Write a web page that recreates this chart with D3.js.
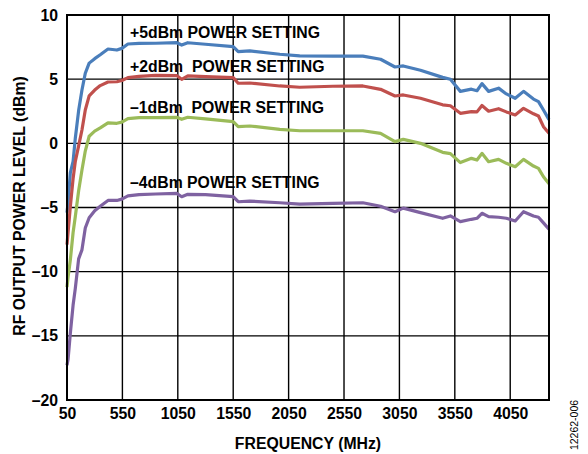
<!DOCTYPE html>
<html><head><meta charset="utf-8">
<script src="https://cdn.jsdelivr.net/npm/d3@7"></script>
<style>body{margin:0;background:#fff}svg{display:block}</style>
</head><body>
<svg id="chart" width="588" height="454"></svg>
<script>
const freqs = [50, 60, 80, 105, 125, 155, 185, 215, 250, 300, 350, 420, 500, 545, 600, 700, 850, 1040, 1085, 1140, 1300, 1550, 1595, 1700, 1970, 2150, 2450, 2720, 2880, 3010, 3085, 3240, 3440, 3510, 3600, 3700, 3750, 3795, 3855, 3945, 4015, 4095, 4170, 4260, 4305, 4350, 4400];
const plus5 = [-5.4, -4.6, -2.3, -1.4, 0.4, 2.55, 4.16, 5.46, 6.25, 6.6, 6.9, 7.35, 7.27, 7.4, 7.74, 7.79, 7.8, 7.84, 7.66, 7.84, 7.72, 7.53, 7.14, 7.2, 6.94, 6.82, 6.8, 6.8, 6.55, 5.95, 6.03, 5.7, 5.14, 4.99, 4.05, 4.22, 4.1, 4.65, 4.05, 4.3, 3.85, 3.51, 4.05, 3.45, 3.25, 2.6, 1.85];
const plus2 = [-7.9, -6.9, -4.94, -2.75, -1.4, -0.2, 1.04, 2.6, 3.7, 4.15, 4.5, 4.78, 4.8, 4.9, 5.12, 5.22, 5.3, 5.28, 4.99, 5.25, 5.2, 5.12, 4.68, 4.7, 4.47, 4.37, 4.45, 4.47, 4.21, 3.69, 3.77, 3.51, 3.0, 2.93, 2.34, 2.47, 2.45, 2.95, 2.5, 2.7, 2.45, 2.21, 2.73, 2.3, 2.13, 1.3, 0.78];
const minus1 = [-11.2, -10.4, -9.1, -6.95, -5.7, -3.7, -2.08, -0.6, 0.55, 0.95, 1.2, 1.6, 1.56, 1.65, 1.92, 2.0, 2.0, 2.03, 1.87, 2.03, 1.9, 1.69, 1.3, 1.35, 1.09, 0.98, 0.98, 0.98, 0.78, 0.13, 0.31, 0.0, -0.7, -0.8, -1.5, -1.17, -1.3, -0.78, -1.43, -1.25, -1.56, -1.82, -1.25, -1.77, -1.95, -2.6, -3.15];
const minus4 = [-17.3, -16.8, -14.8, -12.6, -11.3, -9.0, -8.3, -6.6, -5.8, -5.25, -4.9, -4.45, -4.45, -4.35, -4.1, -4.0, -3.95, -3.9, -4.16, -3.97, -4.0, -4.16, -4.55, -4.5, -4.63, -4.73, -4.68, -4.63, -4.9, -5.33, -5.05, -5.4, -5.84, -5.66, -6.1, -5.92, -5.84, -5.45, -5.71, -5.76, -5.84, -6.05, -5.33, -5.66, -5.76, -6.2, -6.7];
const seriesLabels = ["+5dBm POWER SETTING", "+2dBm  POWER SETTING", "\u20131dBm  POWER SETTING", "\u20134dBm POWER SETTING"];
const seriesColors = ["#4A7EBB", "#C0504D", "#9BBB59", "#7F62A1"];
const xTicks = [50, 550, 1050, 1550, 2050, 2550, 3050, 3550, 4050];
const yTicks = [-20, -15, -10, -5, 0, 5, 10];
const xTitle = "FREQUENCY (MHz)";
const yTitle = "RF OUTPUT POWER LEVEL (dBm)";
const figId = "12262-006";

const svg = d3.select("#chart");
const mLeft = 67, mRight = 549, mTop = 15, mBottom = 400;
const x = d3.scaleLinear().domain([50, 4400]).range([mLeft, mRight]);
const y = d3.scaleLinear().domain([-20, 10]).range([mBottom, mTop]);
const font = "'Liberation Sans', Arial, sans-serif";
const fs = 15.8;

// grid
const g = svg.append("g");
g.selectAll("line.vx").data(xTicks.slice(1)).enter().append("line")
  .attr("x1", d => x(d)).attr("x2", d => x(d)).attr("y1", mTop).attr("y2", mBottom)
  .attr("stroke", "#000").attr("stroke-width", 1.4);
g.selectAll("line.hy").data(yTicks.slice(1, -1)).enter().append("line")
  .attr("x1", mLeft).attr("x2", mRight).attr("y1", d => y(d)).attr("y2", d => y(d))
  .attr("stroke", "#000").attr("stroke-width", 1.4);

// lines
const allSeries = [plus5, plus2, minus1, minus4];
const line = d3.line().x((d, i) => x(freqs[i])).y(d => y(d)).curve(d3.curveLinear);
svg.append("g").selectAll("path").data(allSeries).enter().append("path")
  .attr("d", d => line(d)).attr("fill", "none")
  .attr("stroke", (d, i) => seriesColors[i]).attr("stroke-width", 3.2)
  .attr("stroke-linejoin", "round").attr("stroke-linecap", "butt");

// frame
svg.append("rect").attr("x", mLeft).attr("y", mTop).attr("width", mRight - mLeft).attr("height", mBottom - mTop)
  .attr("fill", "none").attr("stroke", "#000").attr("stroke-width", 2);

// axes labels
const fmt = d => (d < 0 ? "\u2013" + Math.abs(d) : String(d));
const xAxis = d3.axisBottom(x).tickValues(xTicks).tickSize(0).tickPadding(8).tickFormat(d => String(d));
const xa = svg.append("g").attr("transform", `translate(0,${mBottom})`).call(xAxis);
xa.select(".domain").remove();
xa.selectAll("text").attr("font-family", font).attr("font-weight", "bold").attr("font-size", fs).attr("fill", "#000");
const yAxis = d3.axisLeft(y).tickValues(yTicks).tickSize(0).tickPadding(9).tickFormat(fmt);
const ya = svg.append("g").attr("transform", `translate(${mLeft},0)`).call(yAxis);
ya.select(".domain").remove();
ya.selectAll("text").attr("font-family", font).attr("font-weight", "bold").attr("font-size", fs).attr("fill", "#000");

svg.append("text").attr("x", 308).attr("y", 449).attr("text-anchor", "middle")
  .attr("font-family", font).attr("font-weight", "bold").attr("font-size", fs).text(xTitle);
svg.append("text").attr("transform", `translate(24.5,206) rotate(-90)`).attr("text-anchor", "middle")
  .attr("font-family", font).attr("font-weight", "bold").attr("font-size", fs).text(yTitle);
svg.append("text").attr("transform", `translate(577.5,425) rotate(-90)`).attr("text-anchor", "middle")
  .attr("font-family", font).attr("font-size", 10.5).text(figId);

// series annotations (pixel baselines)
const labelBaselines = [38, 71.5, 113, 188];
svg.append("g").selectAll("text").data(seriesLabels).enter().append("text")
  .attr("x", 130).attr("y", (d, i) => labelBaselines[i])
  .attr("font-family", font).attr("font-weight", "bold").attr("font-size", fs)
  .style("white-space", "pre")
  .text(d => d);
</script>
</body></html>
